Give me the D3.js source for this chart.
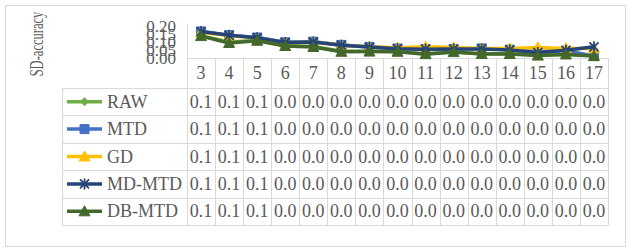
<!DOCTYPE html>
<html><head><meta charset="utf-8">
<script src="https://cdn.jsdelivr.net/npm/d3@7"></script>
<style>html,body{margin:0;padding:0;background:#fff;}svg{display:block;}</style>
</head><body>
<svg id="chart" width="632" height="252"></svg>
<script>
// ---- data ----
const categories = ["3","4","5","6","7","8","9","10","11","12","13","14","15","16","17"];
const seriesNames = ["RAW","MTD","GD","MD-MTD","DB-MTD"];
const rawValues   = [0.140,0.100,0.110,0.078,0.072,0.042,0.042,0.040,0.027,0.038,0.027,0.027,0.018,0.024,0.015];
const mtdValues   = [0.166,0.143,0.128,0.098,0.102,0.082,0.069,0.059,0.056,0.056,0.060,0.052,0.040,0.045,0.012];
const gdValues    = [0.160,0.140,0.125,0.095,0.100,0.080,0.070,0.064,0.070,0.066,0.060,0.060,0.066,0.060,0.060];
const mdmtdValues = [0.165,0.142,0.127,0.097,0.100,0.080,0.068,0.058,0.055,0.056,0.057,0.050,0.035,0.048,0.070];
const dbmtdValues = [0.137,0.094,0.108,0.075,0.069,0.039,0.040,0.039,0.024,0.037,0.025,0.025,0.015,0.022,0.012];
const yTicks = [0, 0.05, 0.10, 0.15, 0.20];
const rawTable   = ["0.1","0.1","0.1","0.0","0.0","0.0","0.0","0.0","0.0","0.0","0.0","0.0","0.0","0.0","0.0"];
const mtdTable   = ["0.1","0.1","0.1","0.0","0.0","0.0","0.0","0.0","0.0","0.0","0.0","0.0","0.0","0.0","0.0"];
const gdTable    = ["0.1","0.1","0.1","0.0","0.0","0.0","0.0","0.0","0.0","0.0","0.0","0.0","0.0","0.0","0.0"];
const mdmtdTable = ["0.1","0.1","0.1","0.0","0.0","0.0","0.0","0.0","0.0","0.0","0.0","0.0","0.0","0.0","0.0"];
const dbmtdTable = ["0.1","0.1","0.1","0.0","0.0","0.0","0.0","0.0","0.0","0.0","0.0","0.0","0.0","0.0","0.0"];
const yTitle = "SD-accuracy";

// ---- styling ----
const colors = ["#70AD47","#4472C4","#FFC000","#264478","#43682B"];
const markers = ["diamond","square","triangle","star","triangle"];
const seriesValues = [rawValues, mtdValues, gdValues, mdmtdValues, dbmtdValues];
const seriesTable = [rawTable, mtdTable, gdTable, mdmtdTable, dbmtdTable];
const series = seriesNames.map((n,i)=>({name:n,color:colors[i],marker:markers[i],values:seriesValues[i],table:seriesTable[i]}));

const FONT = '"Liberation Serif", "Times New Roman", serif';
const svg = d3.select("#chart");
const textColor = "#595959";
const gridColor = "#d9d9d9";

svg.append("rect").attr("x",5.5).attr("y",5.5).attr("width",620).attr("height",241)
  .attr("fill","#fff").attr("stroke",gridColor).attr("stroke-width",1);

const plotLeft = 187, plotRight = 608, plotTop = 26, plotBottom = 58;
const x = d3.scaleBand().domain(categories).range([plotLeft, plotRight]).padding(0);
const y = d3.scaleLinear().domain([0, 0.2]).range([plotBottom, plotTop]);
const cx = c => x(c) + x.bandwidth()/2;

const headerTop = plotBottom, headerBottom = 88;
const tableLeft = 62, tableBottom = 225;
const rowH = (tableBottom - headerBottom) / series.length;

const grid = svg.append("g").attr("stroke",gridColor).attr("stroke-width",1).attr("shape-rendering","crispEdges");
categories.forEach((c,i)=>{
  grid.append("line").attr("x1",Math.round(x(c))+0.5).attr("x2",Math.round(x(c))+0.5)
    .attr("y1", i===0 ? plotTop-2 : headerTop).attr("y2",tableBottom);
});
grid.append("line").attr("x1",plotRight+0.5).attr("x2",plotRight+0.5).attr("y1",headerTop).attr("y2",tableBottom);
grid.append("line").attr("x1",plotLeft).attr("x2",plotRight).attr("y1",plotBottom+0.5).attr("y2",plotBottom+0.5);
for (let r=0; r<=series.length; r++){
  const yy = Math.round(headerBottom + r*rowH)+0.5;
  grid.append("line").attr("x1",tableLeft).attr("x2",plotRight).attr("y1",yy).attr("y2",yy);
}
grid.append("line").attr("x1",tableLeft+0.5).attr("x2",tableLeft+0.5).attr("y1",headerBottom).attr("y2",tableBottom);

// y axis labels
const yAxis = d3.axisLeft(y).tickValues(yTicks).tickSize(0).tickPadding(0).tickFormat(d3.format(".2f"));
const gy = svg.append("g").attr("transform",`translate(${plotLeft-11},0)`).call(yAxis);
gy.attr("font-family",null);
gy.select(".domain").remove();
gy.selectAll("text").style("font-family",FONT).attr("font-size",17).attr("fill",textColor);

// y title (compressed along its length like the reference)
svg.append("text").attr("transform",`translate(43,44) rotate(-90) scale(0.66,1)`).attr("text-anchor","middle")
  .style("font-family",FONT).attr("font-size",19).attr("fill",textColor).text(yTitle);

// header labels
svg.append("g").selectAll("text").data(categories).join("text")
  .attr("x",d=>cx(d)).attr("y",(headerTop+headerBottom)/2+6).attr("text-anchor","middle")
  .style("font-family",FONT).attr("font-size",18).attr("fill",textColor).text(d=>d);

function markerPath(type, s){
  const h = s/2;
  switch(type){
    case "diamond": return `M0,${-h}L${h},0L0,${h}L${-h},0Z`;
    case "square": return `M${-h},${-h}H${h}V${h}H${-h}Z`;
    case "triangle": return `M0,${-h-1}L${h+1},${h}L${-h-1},${h}Z`;
    case "star": return `M${-h},${-h}L${h},${h}M${-h},${h}L${h},${-h}M0,${-h-1}V${h+1}`;
  }
}
function drawMarker(g, type, color, px, py, size){
  const filled = type !== "star";
  g.append("path").attr("transform",`translate(${px},${py})`).attr("d",markerPath(type,size))
    .attr("fill",filled?color:"none").attr("stroke",color).attr("stroke-width",filled?1:1.8);
}

const line = d3.line().x((d,i)=>cx(categories[i])).y(d=>y(d));
const plot = svg.append("g");
series.forEach(s=>{
  const g = plot.append("g");
  g.append("path").attr("d",line(s.values)).attr("fill","none").attr("stroke",s.color)
    .attr("stroke-width",3.5).attr("stroke-linejoin","round").attr("stroke-linecap","round");
  s.values.forEach((v,i)=> drawMarker(g, s.marker, s.color, cx(categories[i]), y(v), 9));
});

series.forEach((s,r)=>{
  const top = headerBottom + r*rowH, mid = top + rowH/2;
  const g = svg.append("g");
  g.append("line").attr("x1",67).attr("x2",102).attr("y1",mid).attr("y2",mid).attr("stroke",s.color).attr("stroke-width",3.5);
  drawMarker(g, s.marker, s.color, 84.5, mid, s.marker==="diamond"?8:9);
  g.append("text").attr("x",107).attr("y",mid+6).style("font-family",FONT).attr("font-size",18).attr("fill",textColor).text(s.name);
  g.selectAll("text.v").data(s.table).join("text").attr("class","v")
    .attr("x",(d,i)=>cx(categories[i])).attr("y",mid+6).attr("text-anchor","middle")
    .style("font-family",FONT).attr("font-size",18).attr("fill",textColor).text(d=>d);
});
</script>
</body></html>
